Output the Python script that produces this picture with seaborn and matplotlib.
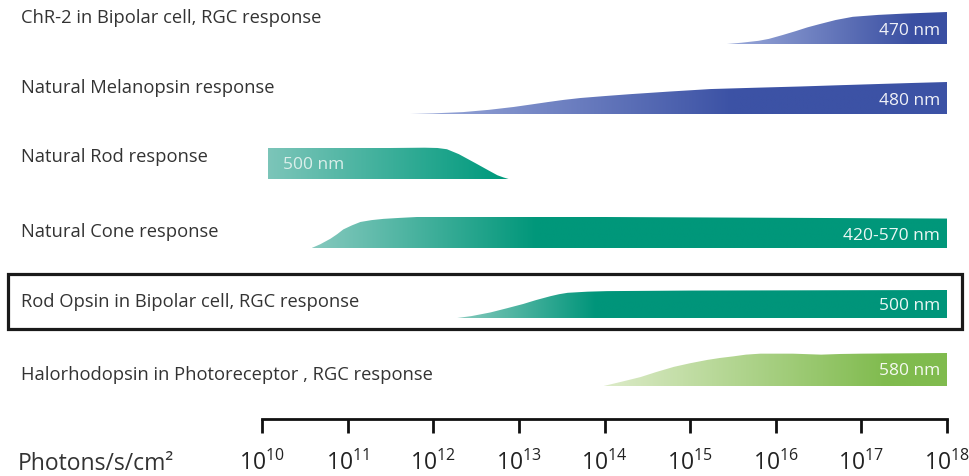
import numpy as np
import matplotlib
matplotlib.use("Agg")
import matplotlib.pyplot as plt
import matplotlib.transforms as mtransforms
from matplotlib.colors import LinearSegmentedColormap
from matplotlib.patches import Rectangle
import seaborn as sns

# response rows, top to bottom
rows = ["ChR-2 in Bipolar cell, RGC response",
        "Natural Melanopsin response",
        "Natural Rod response",
        "Natural Cone response",
        "Rod Opsin in Bipolar cell, RGC response",
        "Halorhodopsin in Photoreceptor , RGC response"]
wavelengths = ["470 nm", "480 nm", "500 nm", "420-570 nm", "500 nm", "580 nm"]

# log10(photons/s/cm2) and relative height of each response profile
chr2_x = [15.43, 15.6, 15.8, 15.92, 16.08, 16.23, 16.37, 16.51, 16.7, 16.9, 17.2, 17.5, 17.8, 18.0]
chr2_h = [0, 0.04, 0.10, 0.16, 0.28, 0.40, 0.52, 0.62, 0.75, 0.85, 0.91, 0.95, 0.98, 1.0]
mel_x = [11.73, 12.0, 12.35, 12.65, 12.94, 13.15, 13.33, 13.52, 13.72, 14.0, 14.3, 14.75,
         15.24, 15.75, 16.29, 16.75, 17.23, 17.6, 18.0]
mel_h = [0, 0.02, 0.06, 0.13, 0.22, 0.30, 0.37, 0.44, 0.50, 0.56, 0.62, 0.70,
         0.78, 0.82, 0.86, 0.90, 0.94, 0.97, 1.0]
rod_x = [10.07, 11.5, 11.9, 12.05, 12.16, 12.3, 12.5, 12.65, 12.75, 12.82, 12.88]
rod_h = [1.0, 1.0, 1.01, 1.0, 0.96, 0.8, 0.5, 0.27, 0.12, 0.05, 0]
cone_x = [10.58, 10.68, 10.80, 10.88, 10.95, 11.05, 11.15, 11.28, 11.42, 11.6, 11.81, 14.0, 18.0]
cone_h = [0, 0.12, 0.30, 0.45, 0.60, 0.73, 0.84, 0.90, 0.94, 0.97, 1.0, 1.0, 0.95]
ropsin_x = [12.28, 12.45, 12.67, 12.85, 13.05, 13.2, 13.37, 13.47, 13.57, 13.8, 14.03, 15.0, 18.0]
ropsin_h = [0, 0.07, 0.20, 0.34, 0.50, 0.64, 0.78, 0.85, 0.90, 0.94, 0.96, 0.98, 1.0]
halo_x = [13.99, 14.2, 14.42, 14.6, 14.81, 15.0, 15.2, 15.35, 15.51, 15.65, 15.82,
          16.2, 16.53, 16.75, 17.0, 18.0]
halo_h = [0, 0.13, 0.27, 0.42, 0.58, 0.69, 0.79, 0.85, 0.90, 0.95, 0.98,
          0.98, 0.95, 0.97, 0.98, 1.0]

profiles = [(chr2_x, chr2_h), (mel_x, mel_h), (rod_x, rod_h),
            (cone_x, cone_h), (ropsin_x, ropsin_h), (halo_x, halo_h)]
decades = list(range(10, 19))

# layout (pixels from top) and styling
baselines = [45, 115, 180, 249, 319, 387]
heights = [32, 32, 31, 31, 28, 33]
label_y = [18, 88, 157, 232, 302, 375]
wl_y = [31, 101, 165, 236, 306, 371]
grad_span = [(15.4, 17.6), (11.7, 15.5), (10.07, 12.8), (10.58, 13.2), (12.28, 13.9), (14.0, 17.3)]
grad_cols = [("#9cabdb", "#3a4fa2"), ("#9cabdb", "#3c52a5"), ("#7cc5b9", "#009a7d"),
             ("#86c9be", "#00977a"), ("#86cabd", "#00957a"), ("#dcebc8", "#80bb4e")]

sns.set_theme(style="white")
plt.rcParams["font.family"] = ["Open Sans", "DejaVu Sans"]
plt.rcParams["mathtext.fontset"] = "custom"
plt.rcParams["mathtext.rm"] = "Open Sans"
plt.rcParams["mathtext.it"] = "Open Sans:italic"
plt.rcParams["mathtext.bf"] = "Open Sans:bold"

fig = plt.figure(figsize=(9.7, 4.77), dpi=100)
ax = fig.add_axes([262 / 970, 57 / 477, 685 / 970, 420 / 477])

for i, (xs, hs) in enumerate(profiles):
    xs = np.array(xs)
    hs = np.array(hs)
    base = baselines[i]
    top = base - hs * heights[i]
    poly = ax.fill_between(xs, base, top, facecolor="none", linewidth=0)
    g0, g1 = grad_span[i]
    gx = np.linspace(xs.min(), xs.max(), 300)
    t = np.clip((gx - g0) / (g1 - g0), 0, 1)
    cmap = LinearSegmentedColormap.from_list("g%d" % i, grad_cols[i])
    im = ax.imshow(t[None, :], extent=(xs.min(), xs.max(), base, base - heights[i] * 1.1),
                   aspect="auto", cmap=cmap, vmin=0, vmax=1, interpolation="bilinear")
    im.set_clip_path(poly.get_paths()[0], ax.transData)

# left labels
lab_tr = mtransforms.blended_transform_factory(fig.transFigure, ax.transData)
for i, name in enumerate(rows):
    ax.text(21 / 970, label_y[i], name, transform=lab_tr, ha="left", va="center",
            fontsize=13.2, color="#333333", clip_on=False)

# wavelength labels inside the shapes
for i, wl in enumerate(wavelengths):
    if i == 2:
        ax.text(10.25, wl_y[i], wl, ha="left", va="center", fontsize=12.5,
                color="#e8f4f1", alpha=0.9)
    else:
        ax.text(17.92, wl_y[i], wl, ha="right", va="center", fontsize=12.5,
                color="white", alpha=0.92)

ax.set_xlim(10, 18)
ax.set_ylim(420, 0)
ax.set_yticks([])
ax.set_xticks(decades)
ax.set_xticklabels([r"$\mathregular{10^{%d}}$" % d for d in decades])
ax.tick_params(axis="x", direction="out", length=10, width=2, color="#111111",
               labelsize=16.5, pad=12, labelcolor="#222222", bottom=True)
sns.despine(ax=ax, left=True, top=True, right=True)
ax.spines["bottom"].set_linewidth(2)
ax.spines["bottom"].set_color("#111111")
ax.patch.set_alpha(0)

# highlight box around the rod opsin row
fig.add_artist(Rectangle((8 / 970, (477 - 330) / 477), 954 / 970, 55 / 477,
                         transform=fig.transFigure, fill=False, lw=2.3, ec="#1a1a1a"))

fig.text(18 / 970, 1 - 464 / 477, "Photons/s/cm²", ha="left", va="center",
         fontsize=16.5, color="#333333")

fig.savefig("out.png", dpi=100)
